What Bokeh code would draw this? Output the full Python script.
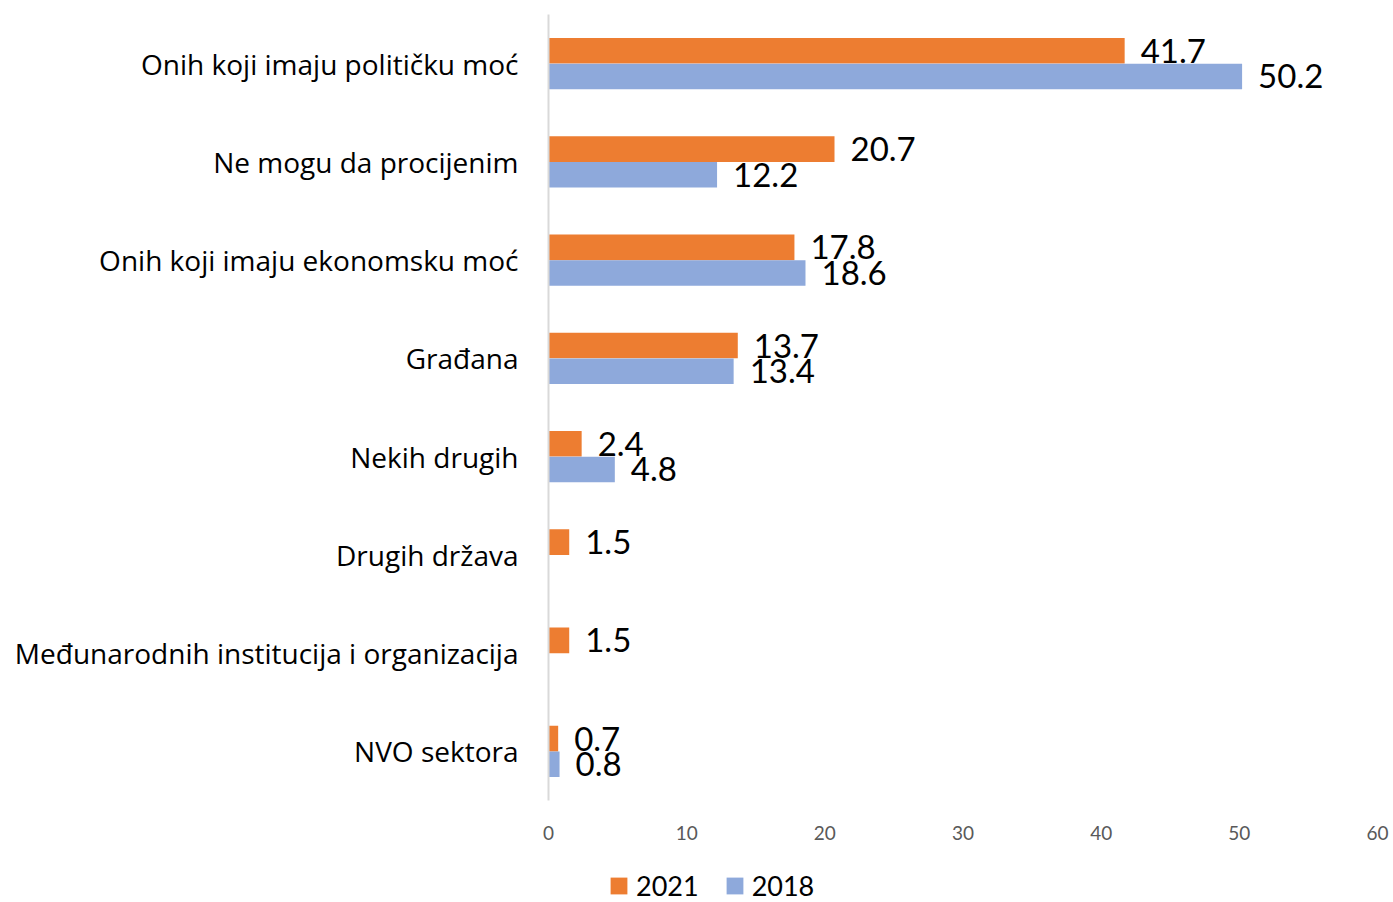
from bokeh.plotting import figure
from bokeh.layouts import column
from bokeh.models import (FactorRange, Range1d, ColumnDataSource, FixedTicker,
                          Legend, LegendItem)
from bokeh.transform import dodge
from bokeh.embed import file_html
from bokeh.resources import INLINE
from bokeh.core.properties import value

categories = ["Onih koji imaju političku moć", "Ne mogu da procijenim",
              "Onih koji imaju ekonomsku moć", "Građana", "Nekih drugih",
              "Drugih država", "Međunarodnih institucija i organizacija",
              "NVO sektora"]
v2021 = [41.7, 20.7, 17.8, 13.7, 2.4, 1.5, 1.5, 0.7]
v2018 = [50.2, 12.2, 18.6, 13.4, 4.8, None, None, 0.8]
x_ticks = [0, 10, 20, 30, 40, 50, 60]
series = ["2021", "2018"]

ORANGE = "#ED7D31"
BLUE = "#8EA9DB"
FONT = "Lato"
CAT_FONT = "Open Sans"

src21 = ColumnDataSource(dict(cat=categories, v=v2021,
                              lab=[f"{v:.1f}" for v in v2021]))
c18 = [c for c, v in zip(categories, v2018) if v is not None]
d18 = [v for v in v2018 if v is not None]
src18 = ColumnDataSource(dict(cat=c18, v=d18, lab=[f"{v:.1f}" for v in d18]))

p = figure(width=1393, height=848, output_backend="svg", toolbar_location=None,
           y_range=FactorRange(factors=list(reversed(categories)), range_padding=0),
           x_range=Range1d(0, 60),
           min_border_left=548, min_border_right=16, min_border_top=14,
           min_border_bottom=48)
p.outline_line_color = None
p.xgrid.grid_line_color = None
p.ygrid.grid_line_color = None
p.background_fill_color = "white"
p.border_fill_color = "white"

off = 0.13
h = 0.26
r21 = p.hbar(y=dodge("cat", off, range=p.y_range), right="v", left=0, height=h,
             source=src21, fill_color=ORANGE, line_color=None)
r18 = p.hbar(y=dodge("cat", -off, range=p.y_range), right="v", left=0, height=h,
             source=src18, fill_color=BLUE, line_color=None)

p.text(x="v", y=dodge("cat", off, range=p.y_range), text="lab", source=src21,
       x_offset=16, text_baseline="middle", text_align="left",
       text_font=value(FONT), text_font_size="33px", text_color="#000000")
p.text(x="v", y=dodge("cat", -off, range=p.y_range), text="lab", source=src18,
       x_offset=16, text_baseline="middle", text_align="left",
       text_font=value(FONT), text_font_size="33px", text_color="#000000")

xa = p.xaxis[0]
xa.ticker = FixedTicker(ticks=x_ticks)
xa.axis_line_color = None
xa.major_tick_line_color = None
xa.minor_tick_line_color = None
xa.major_tick_out = 0
xa.major_label_standoff = 25
xa.major_label_text_font = FONT
xa.major_label_text_font_size = "19px"
xa.major_label_text_color = "#595959"

ya = p.yaxis[0]
ya.axis_line_color = "#D9D9D9"
ya.axis_line_width = 2
ya.major_tick_line_color = None
ya.minor_tick_line_color = None
ya.major_tick_out = 0
ya.major_label_standoff = 30
ya.major_label_text_font = CAT_FONT
ya.major_label_text_font_size = "28px"
ya.major_label_text_color = "#000000"

# Legend strip below the chart (frame aligned with the chart's frame).
# Its bars use the same data but have zero thickness and lie outside this
# strip's visible x range, so only the legend shows.
lg = figure(width=1393, height=54, output_backend="svg", toolbar_location=None,
            x_range=Range1d(1000, 1001), y_range=FactorRange(factors=categories),
            min_border_left=548, min_border_right=16, min_border_top=0,
            min_border_bottom=0)
lg.axis.visible = False
lg.grid.visible = False
lg.outline_line_color = None
lg.border_fill_color = "white"
g21 = lg.hbar(y="cat", right="v", left=0, height=0, source=src21,
              fill_color=ORANGE, line_color=None)
g18 = lg.hbar(y="cat", right="v", left=0, height=0, source=src18,
              fill_color=BLUE, line_color=None)
legend = Legend(items=[LegendItem(label=series[0], renderers=[g21]),
                       LegendItem(label=series[1], renderers=[g18])],
                orientation="horizontal", location=(60, 0),
                label_text_font=FONT, label_text_font_size="27px",
                label_text_color="#000000", glyph_width=21, glyph_height=21,
                label_standoff=7, spacing=25, padding=0, margin=0,
                border_line_color=None, background_fill_alpha=0)
lg.add_layout(legend)

layout = column(p, lg, spacing=0)
open("out.html", "w").write(file_html(layout, INLINE))
